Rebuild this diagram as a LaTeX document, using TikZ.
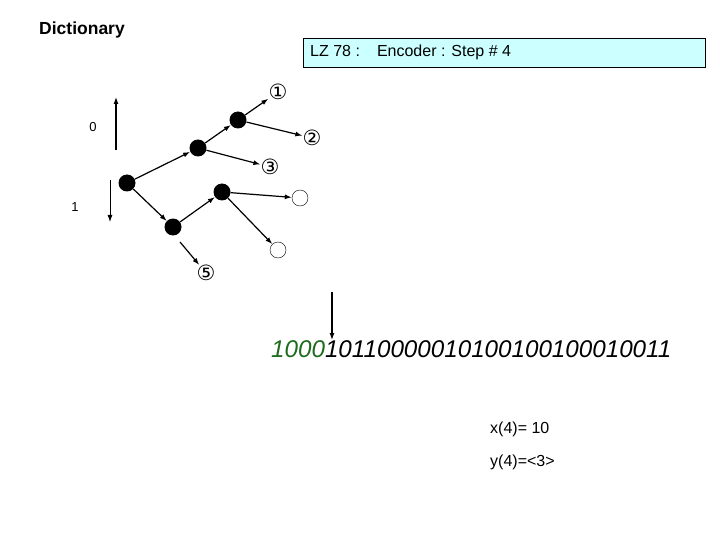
\documentclass[tikz,border=0pt]{standalone}
\usepackage{fontspec}
\setmainfont{Liberation Sans}
\newfontfamily\djfont{DejaVu Sans}
\usetikzlibrary{arrows.meta}
\definecolor{boxc}{HTML}{CCFFFF}
\definecolor{grn}{HTML}{1E6B1E}
\begin{document}
\begin{tikzpicture}[x=1pt,y=-1pt,
  bl/.style={circle,fill=black,minimum size=17pt,inner sep=0pt},
  wc/.style={circle,draw,fill=white,minimum size=16pt,inner sep=0pt},
  lab/.style={inner sep=0pt,font=\djfont\fontsize{21}{21}\selectfont},
  ar/.style={-{Latex[length=7pt,width=5pt]},line width=1.2pt},
  tx/.style={font=\fontsize{16}{18}\selectfont,inner sep=0pt}]
\useasboundingbox (0,0) rectangle (720,540);
\node[tx,font=\bfseries\fontsize{17.5}{18}\selectfont] (dict) at (82,30) {Dictionary};
\node[draw,fill=boxc,minimum width=402pt,minimum height=29pt,anchor=north west,inner sep=0pt] (box) at (303,38) {};
\node[tx,anchor=west] (boxt) at (310,52) {LZ 78 :\hspace{17pt}Encoder : Step \# 4};
% nodes
\node[bl] (r) at (127,183) {};
\node[bl] (a) at (198,148) {};
\node[bl] (b) at (238,120) {};
\node[bl] (c) at (173,227) {};
\node[bl] (d) at (222,192) {};
\node[lab] (l1) at (278,92) {①};
\node[lab] (l2) at (312,138) {②};
\node[lab] (l3) at (270,167) {③};
\node[lab] (l5) at (206,273) {⑤};
\node[wc] (e1) at (300,198) {};
\node[wc] (e2) at (278,250) {};
\coordinate (c5) at (180,242);
\draw[ar] (r) -- (a);
\draw[ar] (r) -- (c);
\draw[ar] (a) -- (b);
\draw[ar] (b) -- (l1);
\draw[ar] (b) -- (l2);
\draw[ar] (a) -- (l3);
\draw[ar] (c) -- (d);
\draw[ar] (d) -- (e1);
\draw[ar] (d) -- (e2);
\draw[ar] (c5) -- (l5);
% direction arrows
\coordinate (z0) at (116,150); \coordinate (z1) at (116,97);
\coordinate (o0) at (110,180); \coordinate (o1) at (110,222);
\draw[ar] (z0) -- (z1);
\draw[ar,line width=0.9pt] (o0) -- (o1);
\node[tx,font=\fontsize{13}{14}\selectfont] (n0) at (93,127) {0};
\node[tx,font=\fontsize{13}{14}\selectfont] (n1) at (75,207) {1};
% bit string
\node[anchor=base west,inner sep=0pt,font=\itshape\fontsize{24.2}{25}\selectfont] (bits) at (271,357) {\textcolor{grn}{1000}10110000010100100100010011};
\coordinate (p0) at (332,292); \coordinate (p1) at (332,340);
\draw[ar] (p0) -- (p1);
\node[tx,anchor=base west] (x4) at (490,433) {x(4)= 10};
\node[tx,anchor=base west] (y4) at (490,466) {y(4)=<3>};
\end{tikzpicture}
\end{document}
